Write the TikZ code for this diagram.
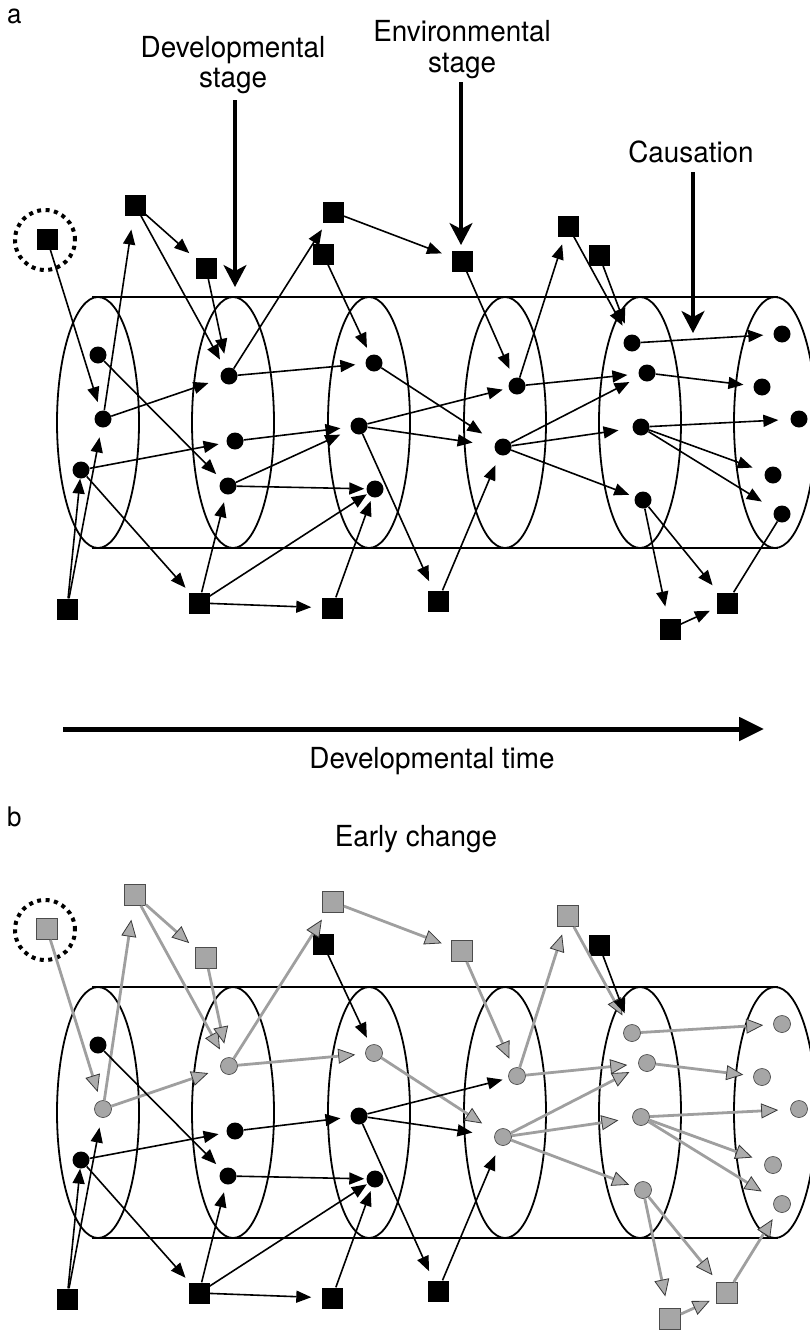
\documentclass[tikz,border=0pt]{standalone}
\usepackage{fontspec}
\setmainfont{TeX Gyre Heros}[FakeStretch=0.96]
\usetikzlibrary{arrows.meta}
\tikzset{
 bdot/.style={circle, fill=black, inner sep=0pt, minimum size=17pt},
 bsq/.style={rectangle, fill=black, inner sep=0pt, minimum size=21pt},
 barr/.style={line width=1.6pt, -{Triangle[length=15pt,width=12pt]}},
 bline/.style={line width=1.6pt},
 gdotb/.style={circle, fill=gray!70, draw=gray!60!black, line width=0.7pt, inner sep=0pt, minimum size=17pt},
 gsqb/.style={rectangle, fill=gray!70, draw=gray!60!black, line width=0.7pt, inner sep=0pt, minimum size=21pt},
 garrb/.style={line width=2.8pt, draw=gray!75, -{Triangle[length=17pt,width=15pt,fill=gray!65,color=gray!45!black,line width=0.8pt]}},
 ellip/.style={line width=1.8pt},
 cyl/.style={line width=1.8pt},
 dotring/.style={circle, draw, line width=4pt, dash pattern=on 4pt off 4.5pt, minimum size=60pt, inner sep=0pt},
 lab/.style={font=\fontsize{29}{33}\selectfont, inner sep=0pt, anchor=base},
 panlab/.style={font=\fontsize{27}{30}\selectfont, inner sep=0pt, anchor=base west},
 bigarr/.style={line width=3.2pt, -{Stealth[length=22pt,width=23pt,inset=6pt]}},
 timearr/.style={line width=5pt, -{Triangle[length=25pt,width=23pt]}},
}
\newcommand\drawpanel[1]{%
 \draw[cyl] (92,297) -- (778,297);
 \draw[cyl] (92,548) -- (778,548);
 \foreach \cx in {98,233,369,505,640,775} {\draw[ellip] (\cx,422.5) ellipse [x radius=41, y radius=125.5];}
 \node[dotring] (R#1) at (45,240) {};
 \node[gsq] (S0#1) at (47,239) {};
 \node[gsq] (S1#1) at (135,205) {};
 \node[gsq] (S2#1) at (206,268) {};
 \node[gsq] (S3#1) at (333,212) {};
 \node[bsq] (S4#1) at (323,254) {};
 \node[gsq] (S5#1) at (462,261) {};
 \node[gsq] (S6#1) at (568,226) {};
 \node[bsq] (S7#1) at (599,255) {};
 \node[bdot] (A1#1) at (98,355) {};
 \node[gdot] (A2#1) at (103,419) {};
 \node[bdot] (A3#1) at (81,470) {};
 \node[gdot] (B1#1) at (229,376) {};
 \node[bdot] (B2#1) at (235,441) {};
 \node[bdot] (B3#1) at (228,486) {};
 \node[gdot] (C1#1) at (374,363) {};
 \node[bdot] (C2#1) at (359,426) {};
 \node[bdot] (C3#1) at (375,489) {};
 \node[gdot] (D1#1) at (517,386) {};
 \node[gdot] (D2#1) at (503,447) {};
 \node[gdot] (E1#1) at (632,343) {};
 \node[gdot] (E2#1) at (647,373) {};
 \node[gdot] (E3#1) at (641,427) {};
 \node[gdot] (E4#1) at (643,500) {};
 \node[gdot] (F1#1) at (782,334) {};
 \node[gdot] (F2#1) at (762,387) {};
 \node[gdot] (F3#1) at (799,419) {};
 \node[gdot] (F4#1) at (773,475) {};
 \node[gdot] (F5#1) at (782,514) {};
 \node[bsq] (Q1#1) at (67,609) {};
 \node[bsq] (Q2#1) at (199,603) {};
 \node[bsq] (Q3#1) at (332,608) {};
 \node[bsq] (Q4#1) at (438,601) {};
 \node[gsq] (Q5#1) at (727,603) {};
 \node[gsq] (Q6#1) at (670,629) {};
 \draw[garr, shorten >=9pt] (S0#1) -- (A2#1);
 \draw[garr, shorten >=14pt] (A2#1) -- (S1#1);
 \draw[garr, shorten >=8pt] (S1#1) -- (S2#1);
 \draw[garr, shorten >=10pt] (S1#1) -- (B1#1);
 \draw[garr, shorten >=14pt] (S2#1) -- (B1#1);
 \draw[garr, shorten >=13pt] (A2#1) -- (B1#1);
 \draw[barr, shorten >=8pt] (A1#1) -- (B3#1);
 \draw[barr, shorten >=8pt] (A3#1) -- (B2#1);
 \draw[barr, shorten >=6pt] (A3#1) -- (Q2#1);
 \draw[barr] (Q1#1) -- (A3#1);
 \draw[barr, shorten >=10pt] (Q1#1) -- (A2#1);
 \draw[barr, shorten >=8pt] (Q2#1) -- (B3#1);
 \draw[garr, shorten >=8pt] (B1#1) -- (S3#1);
 \draw[garr, shorten >=10pt] (B1#1) -- (C1#1);
 \draw[barr, shorten >=10pt] (B2#1) -- (C2#1);
 \draw[barr, shorten >=2pt] (B3#1) -- (C3#1);
 \draw[barr, shorten >=1pt] (Q2#1) -- (C3#1);
 \draw[barr, shorten >=10pt] (Q2#1) -- (Q3#1);
 \draw[barr, shorten >=4pt] (Q3#1) -- (C3#1);
 \draw[garr, shorten >=10pt] (S3#1) -- (S5#1);
 \draw[barr, shorten >=8pt] (S4#1) -- (C1#1);
 \draw[garr, shorten >=16pt] (C1#1) -- (D2#1);
 \draw[barr, shorten >=6pt] (C2#1) -- (D1#1);
 \draw[barr, shorten >=22pt] (C2#1) -- (D2#1);
 \draw[barr, shorten >=10pt] (C2#1) -- (Q4#1);
 \draw[barr, shorten >=11pt] (Q4#1) -- (D2#1);
 \draw[garr, shorten >=10pt] (S5#1) -- (D1#1);
 \draw[garr, shorten >=8pt] (D1#1) -- (S6#1);
 \draw[garr, shorten >=11pt] (D1#1) -- (E2#1);
 \draw[garr, shorten >=11pt] (D2#1) -- (E2#1);
 \draw[garr, shorten >=14pt] (D2#1) -- (E3#1);
 \draw[garr, shorten >=6pt] (D2#1) -- (E4#1);
 \draw[garr, shorten >=11pt] (S6#1) -- (E1#1);
 \draw[barr, shorten >=12pt] (S7#1) -- (E1#1);
 \draw[garr, shorten >=10pt] (E1#1) -- (F1#1);
 \draw[garr, shorten >=10pt] (E2#1) -- (F2#1);
 \draw[garr, shorten >=12pt] (E3#1) -- (F3#1);
 \draw[garr, shorten >=13pt] (E3#1) -- (F4#1);
 \draw[garr, shorten >=15pt] (E3#1) -- (F5#1);
 \draw[garr, shorten >=12pt] (E4#1) -- (Q6#1);
 \draw[garr, shorten >=9pt] (E4#1) -- (Q5#1);
 \draw[garr, shorten >=7pt] (Q6#1) -- (Q5#1);
 \draw[lastarr] (Q5#1) -- (F5#1);
}
\begin{document}
\begin{tikzpicture}[x=1pt, y=-1pt]
\useasboundingbox (0,0) rectangle (809,1330);
% labels panel a
\node[panlab] (la) at (7,24) {a};
\node[lab] (dev1) at (233,57) {Developmental};
\node[lab] (dev2) at (233,88) {stage};
\coordinate (devtop) at (235,100);
\coordinate (devtip) at (235,287);
\node[lab] (env1) at (462,42) {Environmental};
\node[lab] (env2) at (462,72) {stage};
\coordinate (envtop) at (461,82);
\coordinate (envtip) at (461,245);
\node[lab] (caus) at (691,162) {Causation};
\coordinate (caustop) at (693,172);
\coordinate (caustip) at (693,333);
\begin{scope}[gdot/.style={bdot}, gsq/.style={bsq}, garr/.style={barr}, lastarr/.style={bline}]
\drawpanel{a}
\draw[barr, shorten >=12pt] (B3a) -- (C2a);
\end{scope}
\draw[bigarr] (devtop) -- (devtip);
\draw[bigarr] (envtop) -- (envtip);
\draw[bigarr] (caustop) -- (caustip);
% time arrow
\coordinate (tstart) at (63,729);
\coordinate (tend) at (764,729);
\draw[timearr] (tstart) -- (tend);
\node[lab] (time) at (432,768) {Developmental time};
% panel b
\node[panlab] (lb) at (7,826) {b};
\node[lab] (early) at (416,846) {Early change};
\begin{scope}[yshift=-690pt, gdot/.style={gdotb}, gsq/.style={gsqb}, garr/.style={garrb}, lastarr/.style={garrb, shorten >=9pt}]
\drawpanel{b}
\end{scope}
\end{tikzpicture}
\end{document}
